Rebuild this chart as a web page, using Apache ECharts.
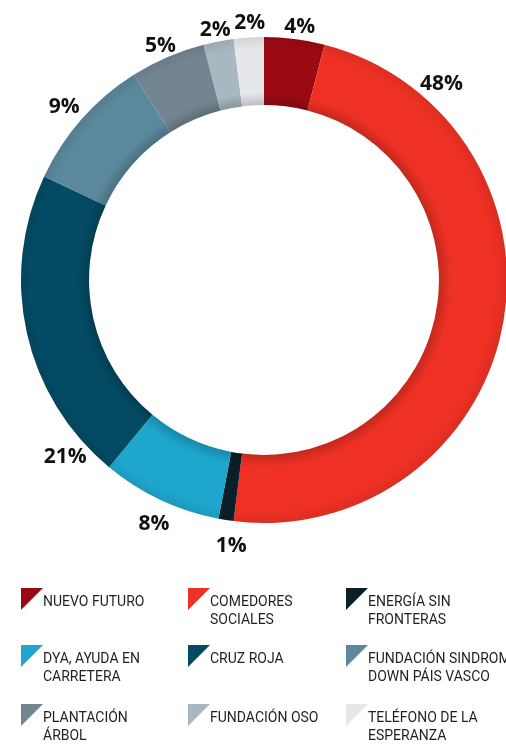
<!DOCTYPE html>
<html>
<head>
<meta charset="utf-8">
<script src="https://cdn.jsdelivr.net/npm/echarts@6/dist/echarts.min.js"></script>
<style>
  html, body { margin: 0; padding: 0; background: #fff; }
  #chart { width: 506px; height: 755px; }
</style>
</head>
<body>
<div id="chart"></div>
<script>
// datos del grafico
var categories = ['NUEVO FUTURO', 'COMEDORES SOCIALES', 'ENERGÍA SIN FRONTERAS',
    'DYA, AYUDA EN CARRETERA', 'CRUZ ROJA', 'FUNDACIÓN SINDROME DOWN PÁIS VASCO',
    'PLANTACIÓN ÁRBOL', 'FUNDACIÓN OSO', 'TELÉFONO DE LA ESPERANZA'];
var legendLabels = ['NUEVO FUTURO', 'COMEDORES\nSOCIALES', 'ENERGÍA SIN\nFRONTERAS',
    'DYA, AYUDA EN\nCARRETERA', 'CRUZ ROJA', 'FUNDACIÓN SINDROME\nDOWN PÁIS VASCO',
    'PLANTACIÓN\nÁRBOL', 'FUNDACIÓN OSO', 'TELÉFONO DE LA\nESPERANZA'];
var values = [4, 48, 1, 8, 21, 9, 5, 2, 2];
var colors = ['#9b0a12', '#ee3124', '#0b1f2a', '#1ea6cd', '#034b64',
    '#5b889d', '#728591', '#a9b7c1', '#e5e7ea'];

// desplazamiento de etiquetas respecto al centro del sector (px)
var labelShift = {
    0: [3, 6], 1: [-79, -245], 2: [8, 8], 3: [1, 8], 4: [56, 120],
    5: [-4, 0], 6: [0, 6], 7: [0, 6], 8: [2, 4]
};

var dom = document.getElementById('chart');
var chart = echarts.init(dom, null, { renderer: 'canvas' });

var pieData = categories.map(function (name, i) {
    return { name: name, value: values[i], itemStyle: { color: colors[i] } };
});

// una leyenda por elemento, en rejilla de 3 columnas
// el texto va un poco por debajo del icono: se empuja con una linea vacia
var colLeft = [21, 188, 346];
var rowMid = [599, 656, 715];
var legends = categories.map(function (name, i) {
    var lines = legendLabels[i].split('\n');
    var spacer = lines.length === 2 ? 24 : 6;
    var boxH = lines.length * 18 + spacer;
    return {
        data: [name],
        left: colLeft[i % 3],
        top: rowMid[Math.floor(i / 3)] - Math.max(boxH, 22) / 2,
        padding: 0,
        itemWidth: 22,
        itemHeight: 22,
        icon: 'path://M0,0 L10,0 L0,10 Z',
        selectedMode: false,
        formatter: function () {
            return '{s| }\n' + lines.map(function (l) { return '{t|' + l + '}'; }).join('\n');
        },
        textStyle: {
            padding: [0, 0, 0, -5],
            rich: {
                s: { fontSize: 4, lineHeight: spacer, height: spacer },
                t: {
                    fontFamily: 'Roboto',
                    fontSize: 14,
                    color: '#231f20',
                    lineHeight: 18
                }
            }
        }
    };
});

var option = {
    animation: false,
    color: colors,
    legend: legends,
    series: [
        {
            type: 'pie',
            center: [264, 280],
            radius: [175, 243],
            startAngle: 90,
            data: pieData,
            label: { show: false },
            labelLine: { show: false },
            emphasis: { disabled: true }
        },
        {
            // sombra suave en los bordes del anillo
            type: 'pie',
            center: [264, 280],
            radius: [175, 243],
            silent: true,
            data: [{ value: 1, name: '' }],
            label: { show: false },
            labelLine: { show: false },
            itemStyle: {
                color: new echarts.graphic.RadialGradient(0.5, 0.5, 0.5, [
                    { offset: 0.72, color: 'rgba(0,0,0,0.18)' },
                    { offset: 0.77, color: 'rgba(0,0,0,0)' },
                    { offset: 0.95, color: 'rgba(0,0,0,0)' },
                    { offset: 1, color: 'rgba(0,0,0,0.08)' }
                ])
            },
            emphasis: { disabled: true }
        },
        {
            // anillo invisible para colocar las etiquetas
            type: 'pie',
            center: [264, 280],
            radius: [243, 273],
            startAngle: 90,
            silent: true,
            data: categories.map(function (name, i) {
                return { name: name, value: values[i] };
            }),
            itemStyle: { color: 'rgba(0,0,0,0)' },
            label: {
                show: true,
                position: 'inside',
                formatter: '{c}%',
                fontFamily: 'Open Sans',
                fontWeight: 'bold',
                fontSize: 21,
                color: '#111'
            },
            labelLine: { show: false },
            labelLayout: function (params) {
                var s = labelShift[params.dataIndex];
                return s ? { dx: s[0], dy: s[1] } : {};
            },
            emphasis: { disabled: true }
        }
    ]
};

chart.setOption(option);
window.addEventListener('resize', function () {
    chart.resize();
});
</script>
</body>
</html>
